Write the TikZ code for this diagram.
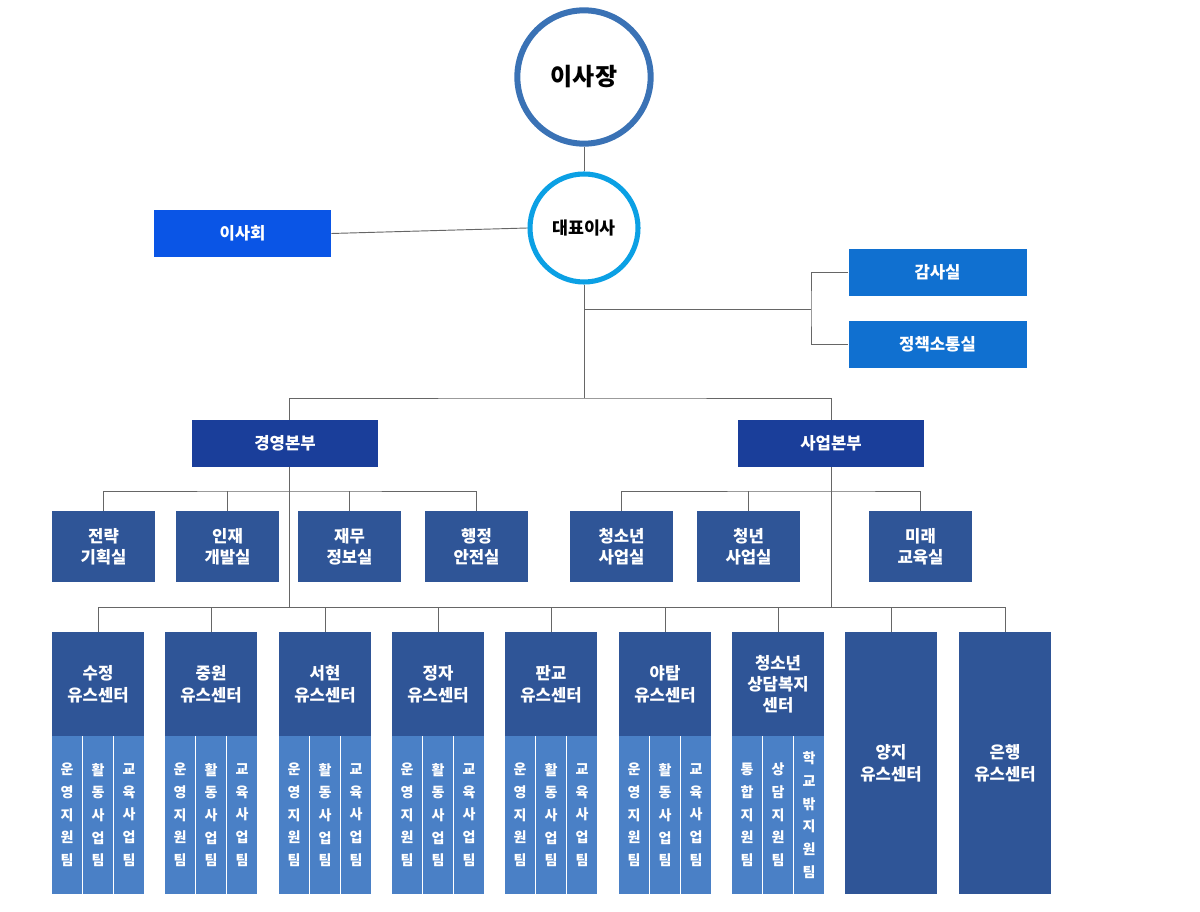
\documentclass[tikz,border=0pt]{standalone}
\usepackage{fontspec}
\setmainfont{Noto Sans CJK KR}
\begin{document}
\begin{tikzpicture}[x=0.75pt,y=-0.75pt,
  box/.style={fill=#1,text=white,inner sep=0pt,font=\bfseries\fontsize{12.5}{16}\selectfont,align=center},
  ln/.style={draw=black!60,line width=0.7pt},
  sub/.style={fill=colsub,text=white,inner sep=0pt,minimum width=22.5pt,minimum height=118.5pt,font=\bfseries\fontsize{10.5}{17}\selectfont,align=center}]
\definecolor{navy}{HTML}{2F5597}
\definecolor{colsub}{HTML}{4A80C6}
\definecolor{hq}{HTML}{1A3E9A}
\definecolor{aud}{HTML}{1070D0}
\definecolor{bd}{HTML}{0A55E6}
\useasboundingbox (0,0) rectangle (1200,912);
% circles
\node[circle,draw={rgb,255:red,58;green,114;blue,181},line width=4.5pt,minimum size=100pt,font=\bfseries\fontsize{18}{20}\selectfont] (ceo) at (584,77) {이사장};
\node[circle,draw={rgb,255:red,11;green,160;blue,228},line width=3.8pt,minimum size=81pt,font=\bfseries\fontsize{13}{16}\selectfont] (rep) at (584,228) {대표이사};
\draw[ln] (ceo) -- (rep);
\node[box=bd,minimum width=132.75pt,minimum height=35.25pt] (board) at (242.5,233.5) {이사회};
\draw[ln] (board.east) -- (rep.west);
\node[box=aud,minimum width=133.5pt,minimum height=35.25pt] (audit) at (937.5,272.5) {감사실};
\node[box=aud,minimum width=133.5pt,minimum height=35.25pt] (policy) at (937.5,344.5) {정책소통실};
\coordinate (j1) at (584,309);
\coordinate (j2) at (811,309);
\draw[ln] (rep.south) -- (j1) -- (j2);
\draw[ln] (audit.west) -| (j2) |- (policy.west);
% HQs
\node[box=hq,minimum width=139.5pt,minimum height=35.25pt] (mg) at (285,443.5) {경영본부};
\node[box=hq,minimum width=139.5pt,minimum height=35.25pt] (bz) at (831,443.5) {사업본부};
\coordinate (j3) at (584,398);
\draw[ln] (j1) -- (j3);
\draw[ln] (mg.north -| 289,0) |- (j3) -| (bz.north);
% offices
\foreach \n/\c/\t in {o1/103.5/전략\\기획실,o2/227.5/인재\\개발실,o3/349.5/재무\\정보실,o4/476.5/행정\\안전실,o5/621.5/청소년\\사업실,o6/748.5/청년\\사业실,o7/920.5/미래\\교육실}{
  \node[box=navy,minimum width=77.25pt,minimum height=53.25pt] (\n) at (\c,546.5) {\t};
}
\node[box=navy,minimum width=77.25pt,minimum height=53.25pt] (o6) at (748.5,546.5) {청년\\사업실};
\coordinate (b1) at (289,491); \coordinate (b2) at (831,491);
\coordinate (b3) at (289,607); \coordinate (b4) at (831,607);
\draw[ln] (289,467) -- (b3);
\draw[ln] (bz.south) -- (b4);
\draw[ln] (o1.north) |- (b1) -| (o4.north);
\draw[ln] (o2.north) -- (o2.north |- b1);
\draw[ln] (o3.north) -- (o3.north |- b1);
\draw[ln] (o5.north) |- (b2) -| (o7.north);
\draw[ln] (o6.north) -- (o6.north |- b2);
% centers
\newcommand\cunit[6]{%
  \node[box=navy,minimum width=69pt,minimum height=78pt,anchor=north] (#1) at (#2+46,632) {#3};
  \node[sub] at (#2+15,815) {#4};
  \node[sub] at (#2+46,815) {#5};
  \node[sub] at (#2+77,815) {#6};
}
\cunit{u1}{52}{수정\\유스센터}{운\\영\\지\\원\\팀}{활\\동\\사\\업\\팀}{교\\육\\사\\업\\팀}
\cunit{u2}{165}{중원\\유스센터}{운\\영\\지\\원\\팀}{활\\동\\사\\업\\팀}{교\\육\\사\\업\\팀}
\cunit{u3}{279}{서현\\유스센터}{운\\영\\지\\원\\팀}{활\\동\\사\\업\\팀}{교\\육\\사\\업\\팀}
\cunit{u4}{392}{정자\\유스센터}{운\\영\\지\\원\\팀}{활\\동\\사\\업\\팀}{교\\육\\사\\업\\팀}
\cunit{u5}{505}{판교\\유스센터}{운\\영\\지\\원\\팀}{활\\동\\사\\업\\팀}{교\\육\\사\\업\\팀}
\cunit{u6}{619}{야탑\\유스센터}{운\\영\\지\\원\\팀}{활\\동\\사\\업\\팀}{교\\육\\사\\업\\팀}
\cunit{u7}{732}{청소년\\상담복지\\센터}{통\\합\\지\\원\\팀}{상\\담\\지\\원\\팀}{학\\교\\밖\\지\\원\\팀}
\node[box=navy,minimum width=69pt,minimum height=196.5pt,anchor=north] (u8) at (891,632) {양지\\유스센터};
\node[box=navy,minimum width=69pt,minimum height=196.5pt,anchor=north] (u9) at (1005,632) {은행\\유스센터};
\draw[ln] (b3) -- (b4);
\draw[ln] (u1.north) |- (b3);
\draw[ln] (u9.north) |- (b4);
\foreach \u in {u2,u3,u4,u5,u6,u7,u8}{\draw[ln] (\u.north) -- (\u.north |- b3);}
\end{tikzpicture}
\end{document}
